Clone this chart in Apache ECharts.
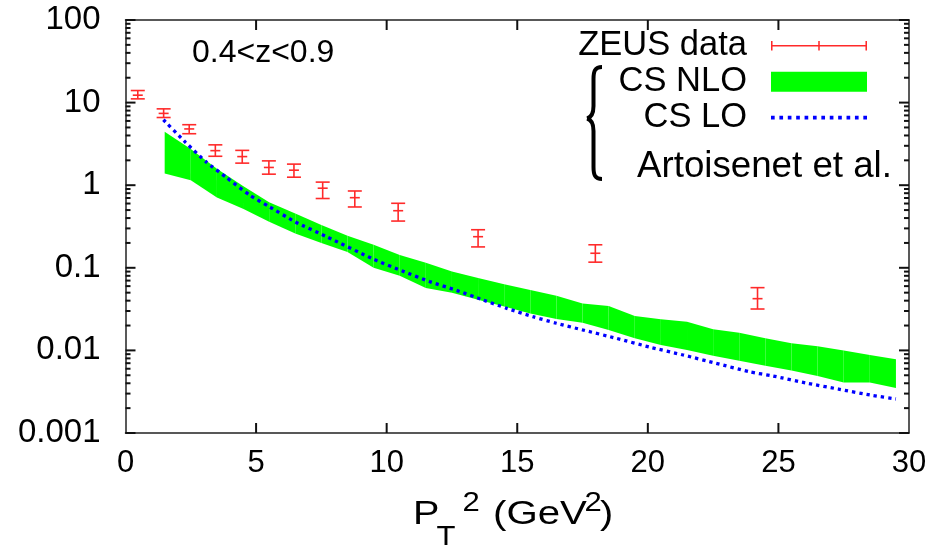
<!DOCTYPE html>
<html>
<head>
<meta charset="utf-8">
<script src="https://cdn.jsdelivr.net/npm/echarts@6/dist/echarts.min.js"></script>
<style>
  html, body { margin: 0; padding: 0; background: #fff; }
  #chart { width: 944px; height: 551px; }
</style>
</head>
<body>
<div id="chart"></div>
<script>
const FONT = '"Liberation Sans", Arial, sans-serif';
const AXIS = "#222";
const TICK = "#111";

// ZEUS data points (x, value, lower / upper end of error bar)
const zeusX = [0.47, 1.46, 2.44, 3.44, 4.47, 5.49, 6.45, 7.55, 8.78, 10.44, 13.5, 17.99, 24.2];
const zeusY = [12.3, 7.4, 4.8, 2.62, 2.22, 1.64, 1.52, 0.92, 0.706, 0.491, 0.238, 0.15, 0.0423];
const zeusLo = [11.1, 6.6, 4.2, 2.24, 1.85, 1.36, 1.25, 0.69, 0.545, 0.368, 0.179, 0.117, 0.0317];
const zeusHi = [14.0, 8.4, 5.4, 3.08, 2.64, 1.97, 1.8, 1.09, 0.851, 0.604, 0.289, 0.19, 0.0575];

// CS NLO band
const bandX = [1.5, 2.5, 3.5, 4.5, 5.5, 6.5, 7.5, 8.5, 9.5, 10.5, 11.5, 12.5, 13.5, 14.5, 15.5,
  16.5, 17.5, 18.5, 19.5, 20.5, 21.5, 22.5, 23.5, 24.5, 25.5, 26.5, 27.5, 28.5, 29.5];
const bandLo = [1.39, 1.15, 0.71, 0.52, 0.36, 0.26, 0.20, 0.155, 0.10, 0.080, 0.057, 0.050, 0.041, 0.034, 0.028,
  0.024, 0.0216, 0.0177, 0.014, 0.0116, 0.0101, 0.0086, 0.0075, 0.0065, 0.0057, 0.0049, 0.0041, 0.0041, 0.0035];
const bandHi = [4.45, 2.75, 1.58, 0.98, 0.62, 0.455, 0.33, 0.245, 0.19, 0.143, 0.115, 0.090, 0.075, 0.063, 0.054,
  0.046, 0.037, 0.0345, 0.026, 0.0238, 0.0223, 0.018, 0.0164, 0.014, 0.0122, 0.0112, 0.0100, 0.0088, 0.0078];

// CS LO curve
const loX = [1.45, 2.3, 3.1, 3.85, 4.75, 5.5, 6.5, 7.7, 9.5, 10.6, 11.65, 12.7, 13.7, 14.6, 15.6,
  16.5, 17.5, 18.8, 20.1, 21.35, 22.6, 23.9, 24.8, 26.1, 27.3, 28.6, 29.5];
const loY = [6.2, 3.3, 1.9, 1.25, 0.76, 0.55, 0.36, 0.238, 0.127, 0.0915, 0.068, 0.053, 0.0407, 0.0323, 0.0256,
  0.0213, 0.0177, 0.014, 0.0109, 0.0088, 0.0070, 0.0055, 0.0049, 0.0040, 0.0034, 0.00285, 0.00258];

// axis ticks (drawn inside the frame on all four sides)
const xTicks = [5, 10, 15, 20, 25];
const yMajor = [0.001, 0.01, 0.1, 1, 10, 100];
const yMinor = [];
yMajor.slice(0, -1).forEach((d) => {
  for (let k = 2; k <= 9; k++) yMinor.push(+(d * k).toPrecision(3));
});
// [x, y, side (0 bottom, 1 top, 2 left, 3 right), length]
const tickData = [];
xTicks.forEach((x) => { tickData.push([x, 0.001, 0, 10], [x, 100, 1, 10]); });
yMajor.forEach((y) => { tickData.push([0, y, 2, 10], [30, y, 3, 10]); });
yMinor.forEach((y) => { tickData.push([0, y, 2, 5], [30, y, 3, 5]); });

// legend icon for the dotted line: a row of small squares
let dotsIcon = "path://";
for (let i = 0; i < 12; i++) dotsIcon += `M${i * 8},0h3.5v3.5h-3.5z `;

const chart = echarts.init(document.getElementById("chart"), null, { renderer: "canvas" });

function yAxisDef(position, withLabels) {
  return {
    type: "log",
    position,
    min: 0.001,
    max: 100,
    axisLine: { show: true, onZero: false, lineStyle: { color: AXIS, width: 1.5 } },
    axisTick: { show: false },
    axisLabel: {
      show: withLabels,
      margin: 25,
      fontSize: 33,
      fontFamily: FONT,
      color: "#000",
      formatter: (v) => String(v),
    },
    splitLine: { show: false },
  };
}

function xAxisDef(position, withLabels) {
  return {
    type: "value",
    position,
    min: 0,
    max: 30,
    interval: 5,
    axisLine: { show: true, onZero: false, lineStyle: { color: AXIS, width: 1.5 } },
    axisTick: { show: false },
    axisLabel: { show: withLabels, margin: 15, fontSize: 31, fontFamily: FONT, color: "#000" },
    splitLine: { show: false },
  };
}

const textStyle = (text, size) => ({ text, fontSize: size, fontFamily: FONT, fill: "#000", verticalAlign: "middle" });
const titlePart = (x, y, text, size, sx) => ({ type: "text", x, y, scaleX: sx, style: textStyle(text, size) });
const braceStyle = { fill: "none", stroke: "#000", lineWidth: 4 };
const curve = (x1, y1, cpx1, cpy1, cpx2, cpy2, x2, y2) => ({
  type: "bezierCurve",
  shape: { x1, y1, cpx1, cpy1, cpx2, cpy2, x2, y2 },
  style: braceStyle,
});
const seg = (x1, y1, x2, y2) => ({ type: "line", shape: { x1, y1, x2, y2 }, style: braceStyle });
const tickDir = [[0, -1], [0, 1], [1, 0], [-1, 0]];

chart.setOption({
  animation: false,
  grid: { left: 125.5, right: 35, top: 20, bottom: 118 },
  xAxis: [xAxisDef("bottom", true), xAxisDef("top", false)],
  yAxis: [yAxisDef("left", true), yAxisDef("right", false)],
  legend: {
    orient: "vertical",
    right: 77,
    top: 27.7,
    padding: 0,
    align: "right",
    itemWidth: 96,
    itemHeight: 20,
    itemGap: 0,
    selectedMode: false,
    textStyle: { fontSize: 34.5, fontFamily: FONT, color: "#000", lineHeight: 36, padding: [0, 19, 0, 0] },
    data: [
      { name: "ZEUS data", icon: "path://M0,4.2h100v1.6h-100z M0,0h1.6v10h-1.6z M49.2,0h1.6v10h-1.6z M98.4,0h1.6v10h-1.6z" },
      { name: "CS NLO", icon: "rect" },
      { name: "CS LO", icon: dotsIcon },
    ],
  },
  series: [
    {
      name: "CS NLO",
      type: "custom",
      clip: true,
      z: 2,
      itemStyle: { color: "#00ff00" },
      encode: { x: 0, y: 1 },
      data: bandX.map((x, i) => [x, bandLo[i], bandHi[i]]),
      renderItem: (params, api) => {
        const i = params.dataIndex;
        if (i >= bandX.length - 1) return null;
        const pts = [
          api.coord([bandX[i], bandLo[i]]),
          api.coord([bandX[i + 1], bandLo[i + 1]]),
          api.coord([bandX[i + 1], bandHi[i + 1]]),
          api.coord([bandX[i], bandHi[i]]),
        ];
        return { type: "polygon", shape: { points: pts }, style: { fill: "#00ff00" } };
      },
    },
    {
      name: "CS LO",
      type: "line",
      symbol: "none",
      showSymbol: false,
      smooth: 0.2,
      z: 3,
      data: loX.map((x, i) => [x, loY[i]]),
      itemStyle: { color: "#0000ff" },
      lineStyle: { color: "#0000ff", width: 3.3, type: [3.3, 4], cap: "butt" },
    },
    {
      name: "ZEUS data",
      type: "custom",
      z: 4,
      itemStyle: { color: "#ff2a2a" },
      encode: { x: 0, y: 1 },
      data: zeusX.map((x, i) => [x, zeusY[i], zeusLo[i], zeusHi[i]]),
      renderItem: (params, api) => {
        const x = api.value(0);
        const c = api.coord([x, api.value(1)]);
        const lo = api.coord([x, api.value(2)]);
        const hi = api.coord([x, api.value(3)]);
        const style = { stroke: "#ff2a2a", lineWidth: 1.6 };
        const hline = (p, w) => ({ type: "line", shape: { x1: p[0] - w, y1: p[1], x2: p[0] + w, y2: p[1] }, style });
        return {
          type: "group",
          children: [
            { type: "line", shape: { x1: lo[0], y1: lo[1], x2: hi[0], y2: hi[1] }, style },
            hline(lo, 7),
            hline(hi, 7),
            hline(c, 5),
          ],
        };
      },
    },
    {
      name: "ticks",
      type: "custom",
      silent: true,
      clip: false,
      z: 5,
      itemStyle: { color: TICK },
      encode: { x: 0, y: 1 },
      data: tickData,
      renderItem: (params, api) => {
        const p = api.coord([api.value(0), api.value(1)]);
        const d = tickDir[api.value(2)];
        const len = api.value(3);
        return {
          type: "group",
          children: [{
            type: "line",
            shape: { x1: p[0], y1: p[1], x2: p[0] + d[0] * len, y2: p[1] + d[1] * len },
            style: { stroke: TICK, lineWidth: 2 },
          }],
        };
      },
    },
  ],
  graphic: [
    { type: "text", x: 192, y: 53, style: textStyle("0.4<z<0.9", 32) },
    { type: "text", x: 637, y: 167, style: textStyle("Artoisenet et al.", 36.7) },
    {
      type: "group",
      children: [
        curve(602, 67, 595, 67, 593.5, 71, 593.5, 79),
        seg(593.5, 79, 593.5, 106),
        curve(593.5, 106, 593.5, 114, 591, 117.5, 587, 118.5),
        curve(587, 118.5, 591, 119.5, 593.5, 123, 593.5, 131),
        seg(593.5, 131, 593.5, 167),
        curve(593.5, 167, 593.5, 175, 595, 179, 602, 179),
      ],
    },
    // axis title P_T^2 (GeV^2)
    titlePart(413, 515, "P", 33, 1.2),
    titlePart(436.5, 538, "T", 27, 1.15),
    titlePart(462.5, 503.5, "2", 27, 1.15),
    titlePart(493, 515, "(GeV", 33, 1.22),
    titlePart(584.5, 503.5, "2", 27, 1.15),
    titlePart(600, 515, ")", 33, 1.2),
  ],
});
</script>
</body>
</html>
